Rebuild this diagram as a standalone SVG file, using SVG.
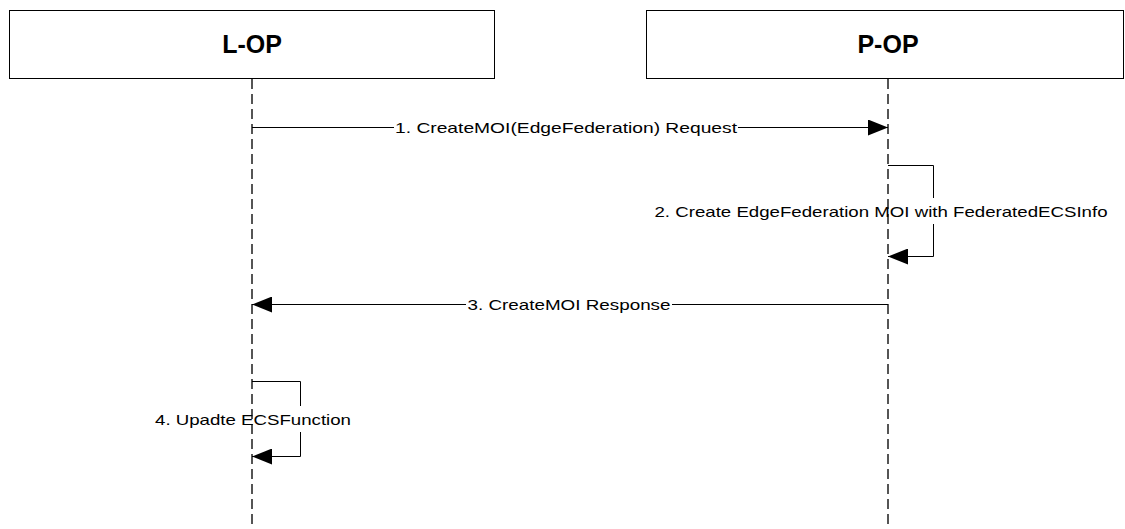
<svg xmlns="http://www.w3.org/2000/svg" width="1125" height="529" viewBox="0 0 1125 529">
<style>
.box{fill:#fff;stroke:#000;stroke-width:1}
.title{font-family:"Liberation Sans",Arial,sans-serif;font-weight:bold;font-size:25px;text-anchor:middle;fill:#000}
.life{stroke:#555;stroke-width:2;stroke-dasharray:10 5;fill:none}
.msg{stroke:#000;stroke-width:1;fill:none}
.lbl{font-family:"Liberation Sans",Arial,sans-serif;font-size:15px;fill:#000;text-anchor:middle}
</style>
<defs>
<marker id="ah" viewBox="0 0 20 16" refX="20" refY="8" markerWidth="20" markerHeight="16" markerUnits="userSpaceOnUse" orient="auto">
<path d="M0,0 L20,8 L0,16 z" fill="#000"/>
</marker>
</defs>
<rect width="1125" height="529" fill="#fff"/>
<g id="lop">
<rect class="box" x="9.5" y="10.5" width="485" height="68"/>
<text class="title" x="252" y="53">L-OP</text>
<line class="life" x1="252" y1="79" x2="252" y2="529"/>
</g>
<g id="pop">
<rect class="box" x="646.5" y="10.5" width="477" height="68"/>
<text class="title" x="888" y="53">P-OP</text>
<line class="life" x1="888" y1="79" x2="888" y2="529"/>
</g>
<g id="connectors">
<g id="m1">
<line class="msg" x1="252" y1="127.5" x2="394" y2="127.5"/>
<line class="msg" x1="738" y1="127.5" x2="888" y2="127.5" marker-end="url(#ah)"/>
<text class="lbl" x="566" y="133" textLength="342" lengthAdjust="spacingAndGlyphs">1. CreateMOI(EdgeFederation) Request</text>
</g>
<g id="m2">
<path class="msg" d="M888,165.5 H933.5 V198"/>
<path class="msg" d="M933.5,224 V256.5 H888" marker-end="url(#ah)"/>
<text class="lbl" x="881" y="217" textLength="453" lengthAdjust="spacingAndGlyphs">2. Create EdgeFederation MOI with FederatedECSInfo</text>
</g>
<g id="m3">
<line class="msg" x1="888" y1="304.5" x2="672" y2="304.5"/>
<line class="msg" x1="466" y1="304.5" x2="252" y2="304.5" marker-end="url(#ah)"/>
<text class="lbl" x="569" y="310" textLength="203" lengthAdjust="spacingAndGlyphs">3. CreateMOI Response</text>
</g>
<g id="m4">
<path class="msg" d="M252,381.5 H300.5 V406"/>
<path class="msg" d="M300.5,432 V456.5 H252" marker-end="url(#ah)"/>
<text class="lbl" x="253" y="425" textLength="196" lengthAdjust="spacingAndGlyphs">4. Upadte ECSFunction</text>
</g>
</g>
</svg>
